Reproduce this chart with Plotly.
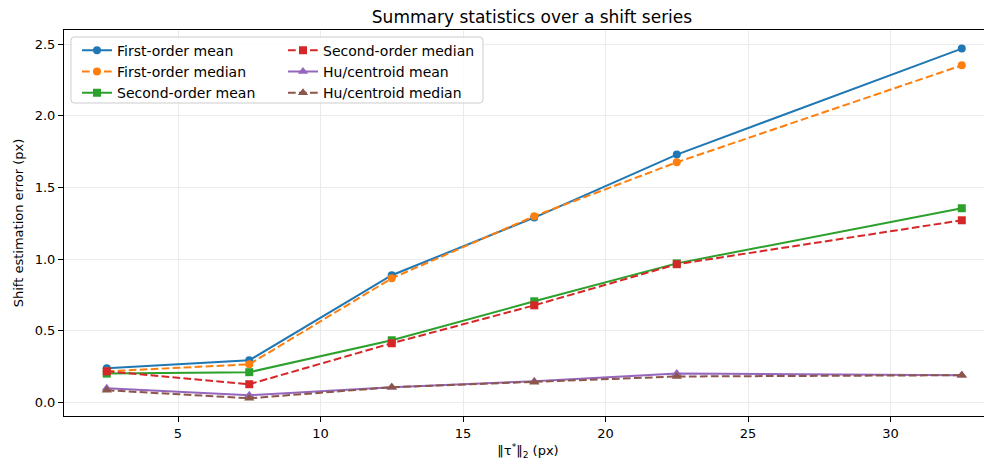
import plotly.graph_objects as go

shift = [2.5, 7.5, 12.5, 17.5, 22.5, 32.5]
first_mean = [0.237, 0.293, 0.887, 1.29, 1.73, 2.47]
first_median = [0.216, 0.265, 0.866, 1.30, 1.676, 2.353]
second_mean = [0.20, 0.21, 0.433, 0.705, 0.97, 1.355]
second_median = [0.216, 0.126, 0.412, 0.677, 0.964, 1.271]
hu_mean = [0.098, 0.049, 0.105, 0.147, 0.20, 0.189]
hu_median = [0.084, 0.028, 0.105, 0.140, 0.18, 0.189]

series = [
    ("First-order mean", first_mean, "#1f77b4", "solid", "circle", "legend", 1),
    ("First-order median", first_median, "#ff7f0e", "7.7px,3.3px", "circle", "legend", 2),
    ("Second-order mean", second_mean, "#2ca02c", "solid", "square", "legend", 3),
    ("Second-order median", second_median, "#d62728", "7.7px,3.3px", "square", "legend2", 4),
    ("Hu/centroid mean", hu_mean, "#9467bd", "solid", "triangle-up", "legend2", 5),
    ("Hu/centroid median", hu_median, "#8c564b", "7.7px,3.3px", "triangle-up", "legend2", 6),
]

FONT = "DejaVu Sans"
W, H = 984, 456  # page body adds an 8px offset
fig = go.Figure()
for name, vals, color, dash, sym, leg, rank in series:
    fig.add_trace(go.Scatter(
        x=shift, y=vals, name=name, mode="lines+markers",
        line=dict(color=color, width=2, dash=dash),
        marker=dict(color=color, size=8 if sym != "triangle-up" else 9, symbol=sym),
        legend=leg, legendrank=rank,
    ))

# legend frame (matplotlib style)
x0, x1 = 0.0075, 0.4515
y0, y1 = 0.8109, 0.9819
rx, ry = 0.0035, 0.009
path = (f"M {x0+rx},{y0} L {x1-rx},{y0} Q {x1},{y0} {x1},{y0+ry} "
        f"L {x1},{y1-ry} Q {x1},{y1} {x1-rx},{y1} L {x0+rx},{y1} "
        f"Q {x0},{y1} {x0},{y1-ry} L {x0},{y0+ry} Q {x0},{y0} {x0+rx},{y0} Z")
fig.add_shape(type="path", path=path, xref="paper", yref="paper",
              fillcolor="rgba(255,255,255,0.8)", line=dict(color="#cccccc", width=1),
              layer="above")

legend_common = dict(
    font=dict(family=FONT, size=14, color="#000000"),
    bgcolor="rgba(0,0,0,0)", borderwidth=0, orientation="v",
    yanchor="top", xanchor="left", tracegroupgap=0, itemwidth=30,
)

fig.update_layout(
    width=W, height=H,
    margin=dict(l=56, r=0, t=22, b=48, autoexpand=False),
    paper_bgcolor="white", plot_bgcolor="white",
    font=dict(family=FONT, size=13, color="#000000"),
    title=dict(text="Summary statistics over a shift series", x=524/W, xref="container",
               xanchor="center", y=1-9/H, yref="container", yanchor="middle",
               automargin=False,
               font=dict(family=FONT, size=17, color="#000000")),
    xaxis=dict(range=[1, 33.56], tickvals=[5, 10, 15, 20, 25, 30], automargin=False,
               showgrid=True, gridcolor="#ebebeb", gridwidth=1,
               showline=True, linecolor="#000000", linewidth=1, mirror=True,
               ticks="outside", ticklen=5, tickcolor="#000000",
               tickfont=dict(family=FONT, size=13),
               title=dict(text="‖τ<sup>*</sup>‖<sub>2</sub> (px)", standoff=6,
                          font=dict(family=FONT, size=13)),
               zeroline=False),
    yaxis=dict(range=[-0.096, 2.6], tickvals=[0, 0.5, 1.0, 1.5, 2.0, 2.5], automargin=False,
               ticktext=["0.0", "0.5", "1.0", "1.5", "2.0", "2.5"],
               showgrid=True, gridcolor="#ebebeb", gridwidth=1,
               showline=True, linecolor="#000000", linewidth=1, mirror=False,
               ticks="outside", ticklen=5, tickcolor="#000000",
               tickfont=dict(family=FONT, size=13),
               title=dict(text="Shift estimation error (px)", standoff=8,
                          font=dict(family=FONT, size=13)),
               zeroline=False),
    legend=dict(x=0.014, y=0.988, **legend_common),
    legend2=dict(x=0.236, y=0.988, **legend_common),
    showlegend=True,
)

fig.write_html("out.html")
